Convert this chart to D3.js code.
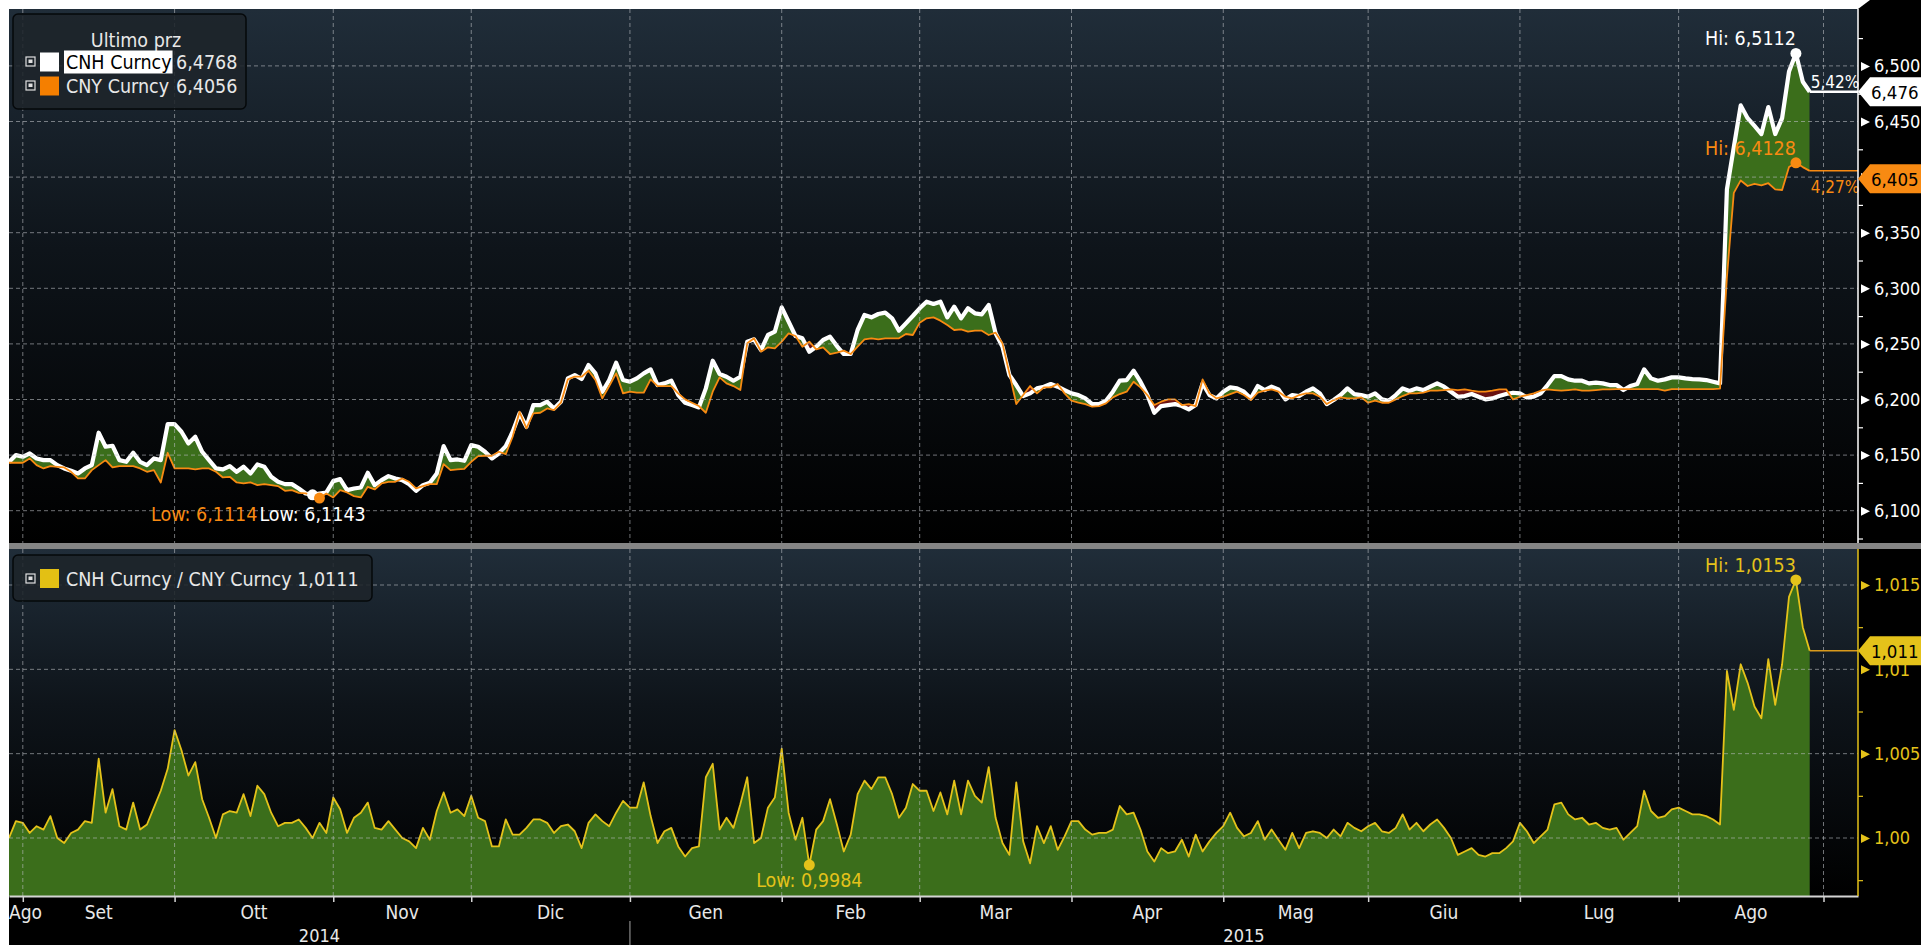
<!DOCTYPE html>
<html><head><meta charset="utf-8">
<script src="https://cdn.jsdelivr.net/npm/d3@7"></script>
<style>
html,body{margin:0;padding:0;background:#fff;overflow:hidden}
svg{display:block}
text{font-family:'DejaVu Sans Condensed','DejaVu Sans',sans-serif;font-stretch:condensed}
</style></head><body><svg id="c" width="1921" height="945"></svg>
<script>
// ---------- DATA ----------
const START_DATE = "2014-08-28";           // first business day shown
const monthNames = ["Gen","Feb","Mar","Apr","Mag","Giu","Lug","Ago","Set","Ott","Nov","Dic"];
const seriesNames = ["CNH Curncy","CNY Curncy"];
const ratioName = "CNH Curncy / CNY Curncy";
const legendTitle = "Ultimo prz";

const cnh = [
6.1438,6.1500,6.1485,6.1515,6.1470,6.1455,6.1455,6.1410,6.1380,6.1359,
6.1335,6.1380,6.1410,6.1701,6.1575,6.1584,6.1455,6.1440,6.1521,6.1440,
6.1410,6.1470,6.1455,6.1779,6.1779,6.1710,6.1605,6.1665,6.1530,6.1455,
6.1380,6.1371,6.1401,6.1350,6.1395,6.1335,6.1416,6.1395,6.1305,6.1260,
6.1239,6.1239,6.1200,6.1155,6.1143,6.1155,6.1164,6.1266,6.1284,6.1185,
6.1200,6.1209,6.1341,6.1230,6.1275,6.1311,6.1290,6.1275,6.1239,6.1179,
6.1230,6.1251,6.1335,6.1581,6.1455,6.1461,6.1449,6.1590,6.1575,6.1530,
6.1470,6.1515,6.1581,6.1710,6.1875,6.1755,6.1950,6.1950,6.1980,6.1920,
6.1980,6.2190,6.2220,6.2184,6.2310,6.2235,6.2070,6.2175,6.2331,6.2175,
6.2160,6.2190,6.2235,6.2271,6.2130,6.2145,6.2169,6.2040,6.1971,6.1950,
6.1929,6.2100,6.2349,6.2229,6.2205,6.2169,6.2205,6.2520,6.2541,6.2445,
6.2580,6.2610,6.2829,6.2700,6.2571,6.2550,6.2430,6.2475,6.2535,6.2565,
6.2481,6.2409,6.2409,6.2625,6.2760,6.2739,6.2769,6.2781,6.2730,6.2619,
6.2685,6.2751,6.2820,6.2880,6.2859,6.2880,6.2739,6.2835,6.2730,6.2820,
6.2775,6.2766,6.2850,6.2595,6.2475,6.2220,6.2130,6.2031,6.2055,6.2100,
6.2115,6.2139,6.2115,6.2085,6.2055,6.2040,6.2010,6.1959,6.1959,6.1989,
6.2070,6.2169,6.2175,6.2259,6.2160,6.2040,6.1881,6.1941,6.1950,6.1959,
6.1941,6.1911,6.1950,6.2145,6.2040,6.2010,6.2070,6.2109,6.2100,6.2070,
6.2010,6.2121,6.2085,6.2115,6.2091,6.2001,6.2040,6.2031,6.2070,6.2100,
6.2055,6.1959,6.1995,6.2040,6.2100,6.2049,6.2040,6.2025,6.2055,6.2001,
6.1989,6.2040,6.2100,6.2076,6.2100,6.2085,6.2115,6.2145,6.2115,6.2070,
6.2025,6.2031,6.2049,6.2025,6.2001,6.2010,6.2031,6.2049,6.2061,6.2055,
6.2019,6.2025,6.2055,6.2130,6.2211,6.2211,6.2181,6.2169,6.2169,6.2145,
6.2151,6.2145,6.2130,6.2130,6.2085,6.2121,6.2139,6.2271,6.2190,6.2169,
6.2181,6.2199,6.2199,6.2190,6.2184,6.2181,6.2175,6.2160,6.2145,6.3890,
6.4270,6.4645,6.4530,6.4460,6.4387,6.4630,6.4387,6.4530,6.4950,6.5112,
6.4857,6.4768];

const cny = [
6.1431,6.1431,6.1431,6.1470,6.1410,6.1380,6.1401,6.1395,6.1389,6.1350,
6.1290,6.1290,6.1365,6.1410,6.1455,6.1389,6.1401,6.1401,6.1401,6.1380,
6.1350,6.1365,6.1254,6.1521,6.1380,6.1380,6.1380,6.1371,6.1380,6.1380,
6.1350,6.1299,6.1305,6.1254,6.1245,6.1254,6.1230,6.1239,6.1230,6.1221,
6.1179,6.1185,6.1161,6.1155,6.1140,6.1114,6.1155,6.1119,6.1185,6.1164,
6.1131,6.1119,6.1215,6.1191,6.1245,6.1260,6.1260,6.1290,6.1260,6.1200,
6.1221,6.1239,6.1239,6.1419,6.1365,6.1371,6.1377,6.1440,6.1491,6.1494,
6.1494,6.1530,6.1509,6.1665,6.1890,6.1740,6.1875,6.1881,6.1920,6.1905,
6.1971,6.2181,6.2205,6.2205,6.2259,6.2175,6.2010,6.2121,6.2235,6.2055,
6.2070,6.2061,6.2061,6.2181,6.2121,6.2121,6.2121,6.2055,6.2001,6.1971,
6.1941,6.1881,6.2070,6.2199,6.2145,6.2121,6.2085,6.2505,6.2550,6.2430,
6.2469,6.2460,6.2520,6.2595,6.2571,6.2475,6.2520,6.2451,6.2469,6.2409,
6.2421,6.2439,6.2409,6.2475,6.2541,6.2550,6.2541,6.2550,6.2550,6.2550,
6.2589,6.2580,6.2691,6.2730,6.2739,6.2709,6.2670,6.2625,6.2631,6.2610,
6.2619,6.2619,6.2580,6.2601,6.2505,6.2235,6.1959,6.2040,6.2121,6.2055,
6.2109,6.2109,6.2139,6.2055,6.1989,6.1971,6.1959,6.1935,6.1941,6.1965,
6.2019,6.2049,6.2070,6.2160,6.2109,6.2040,6.1950,6.1980,6.2001,6.2001,
6.1950,6.1959,6.1941,6.2181,6.2055,6.2010,6.2025,6.2049,6.2070,6.2040,
6.1995,6.2061,6.2079,6.2091,6.2070,6.2025,6.2010,6.2040,6.2055,6.2055,
6.2025,6.1959,6.1995,6.2019,6.2010,6.2010,6.2019,6.1971,6.1989,6.1971,
6.1971,6.2001,6.2031,6.2055,6.2055,6.2061,6.2079,6.2079,6.2085,6.2091,
6.2085,6.2091,6.2079,6.2070,6.2070,6.2079,6.2091,6.2091,6.2001,6.2025,
6.2040,6.2055,6.2079,6.2091,6.2085,6.2079,6.2085,6.2091,6.2079,6.2079,
6.2085,6.2091,6.2091,6.2094,6.2094,6.2094,6.2094,6.2094,6.2094,6.2094,
6.2079,6.2094,6.2094,6.2094,6.2094,6.2094,6.2094,6.2094,6.2097,6.3100,
6.3858,6.3970,6.3920,6.3940,6.3925,6.3945,6.3890,6.3884,6.4090,6.4128,
6.4090,6.4056];

const ratio = [
1.0000,1.0010,1.0009,1.0003,1.0007,1.0005,1.0013,1.0000,0.9997,1.0003,
1.0005,1.0010,1.0009,1.0047,1.0015,1.0029,1.0007,1.0005,1.0021,1.0005,
1.0008,1.0018,1.0028,1.0041,1.0064,1.0052,1.0037,1.0045,1.0023,1.0012,
1.0000,1.0014,1.0016,1.0015,1.0026,1.0013,1.0031,1.0026,1.0015,1.0007,
1.0009,1.0009,1.0011,1.0006,1.0000,1.0009,1.0003,1.0024,1.0017,1.0003,
1.0012,1.0015,1.0021,1.0006,1.0005,1.0010,1.0005,1.0000,0.9998,0.9994,
1.0006,0.9999,1.0016,1.0027,1.0015,1.0017,1.0013,1.0025,1.0012,1.0010,
0.9995,0.9995,1.0011,1.0002,1.0002,1.0006,1.0011,1.0011,1.0009,1.0003,
1.0007,1.0008,1.0004,0.9994,1.0009,1.0014,1.0010,1.0007,1.0015,1.0022,
1.0018,1.0018,1.0033,1.0013,0.9997,1.0004,1.0006,0.9995,0.9989,0.9994,
0.9995,1.0036,1.0044,1.0005,1.0012,1.0006,1.0020,1.0036,0.9997,1.0000,
1.0018,1.0024,1.0053,1.0015,0.9999,1.0012,0.9984,1.0005,1.0010,1.0023,
1.0008,0.9992,1.0002,1.0026,1.0034,1.0029,1.0036,1.0036,1.0026,1.0012,
1.0018,1.0032,1.0028,1.0028,1.0016,1.0027,1.0014,1.0034,1.0014,1.0034,
1.0025,1.0021,1.0042,1.0012,0.9997,0.9990,1.0033,0.9998,0.9985,1.0007,
0.9997,1.0007,0.9993,1.0001,1.0010,1.0010,1.0005,1.0002,1.0003,1.0003,
1.0005,1.0019,1.0014,1.0015,1.0005,0.9992,0.9986,0.9994,0.9991,0.9992,
0.9999,0.9989,1.0002,0.9992,0.9998,1.0003,1.0007,1.0015,1.0006,1.0001,
1.0003,1.0010,0.9999,1.0005,0.9999,0.9993,1.0003,0.9994,1.0003,1.0004,
1.0003,1.0000,1.0005,1.0001,1.0009,1.0006,1.0004,1.0007,1.0009,1.0004,
1.0003,1.0006,1.0014,1.0005,1.0009,1.0004,1.0008,1.0011,1.0006,1.0000,
0.9990,0.9992,0.9994,0.9990,0.9989,0.9991,0.9991,0.9994,0.9998,1.0009,
1.0004,0.9997,1.0001,1.0005,1.0020,1.0021,1.0014,1.0011,1.0012,1.0008,
1.0009,1.0006,1.0005,1.0006,0.9999,1.0003,1.0007,1.0028,1.0016,1.0012,
1.0013,1.0017,1.0018,1.0016,1.0014,1.0014,1.0013,1.0011,1.0008,1.0099,
1.0076,1.0103,1.0092,1.0078,1.0071,1.0106,1.0079,1.0103,1.0143,1.0153,
1.0125,1.0111];

const topTicks  = [6.10,6.15,6.20,6.25,6.30,6.35,6.40,6.45,6.50];
const topMinor  = [6.075,6.125,6.175,6.225,6.275,6.325,6.375,6.425,6.475,6.525];
const botTicks  = [1.000,1.005,1.010,1.015];
const botTickLabels = ["1,00","1,005","1,01","1,015"];
const botMinor  = [0.9975,1.0025,1.0075,1.0125];

// ---------- LAYOUT ----------
const W = 1921, H = 945;
const L = 9, R = 1858, T = 9;
const topB = 543, sepB = 549, botB = 896;
const DOMAIN_MAX = 268;
const FS_LEG = 19.5, FS_ANN = 19.5, FS_MON = 19, FS_AX = 18;

const C = {
  white:"#ffffff", orange:"#f88a12", yellow:"#e4c21a", green:"#3b6e1b", red:"#6a1212",
  grid:"#b9bdc1", axisText:"#e8e8e8"
};

const svg = d3.select("#c");
const defs = svg.append("defs");
const loc = d3.formatLocale({decimal:",", thousands:".", grouping:[3], currency:["","€"]});
const f3 = loc.format(".3f"), f4 = loc.format(".4f"), f2 = loc.format(".2f");
const trunc3 = v => f3(Math.floor(v*1000 + 1e-9)/1000);

// dates: business days
const dates = [];
{ let d = new Date(START_DATE + "T00:00:00Z");
  while (dates.length <= DOMAIN_MAX) { const wd = d.getUTCDay(); if (wd !== 0 && wd !== 6) dates.push(new Date(d)); d.setUTCDate(d.getUTCDate()+1); } }
const N = cnh.length;
const monthStarts = [];
for (let i = 1; i < dates.length; i++) if (dates[i].getUTCMonth() !== dates[i-1].getUTCMonth()) monthStarts.push(i);

// scales
const x = d3.scaleLinear().domain([0, DOMAIN_MAX]).range([L, R]);
const yT = d3.scaleLinear().domain([6.1, 6.5]).range([510.7, 65.9]);
const yB = d3.scaleLinear().domain([1.0, 1.015]).range([838, 585]);

// ---------- BACKGROUND ----------
svg.append("rect").attr("width", W).attr("height", H).attr("fill", "#fff");
svg.append("rect").attr("x", L).attr("y", T).attr("width", W-L).attr("height", H-T).attr("fill", "#000");
svg.append("rect").attr("x", R).attr("y", 0).attr("width", W-R).attr("height", T).attr("fill", "#000");
svg.append("path").attr("d", `M${R},0L${R+12},0L${R},${T}Z`).attr("fill", "#fff");

function grad(id){
  const g = defs.append("linearGradient").attr("id", id).attr("x1",0).attr("y1",0).attr("x2",0).attr("y2",1);
  g.append("stop").attr("offset","0%").attr("stop-color","#202d39");
  g.append("stop").attr("offset","45%").attr("stop-color","#0e141a");
  g.append("stop").attr("offset","100%").attr("stop-color","#000000");
}
grad("gTop"); grad("gBot");
svg.append("rect").attr("x",L).attr("y",T).attr("width",R-L).attr("height",topB-T).attr("fill","url(#gTop)");
svg.append("rect").attr("x",L).attr("y",sepB).attr("width",R-L).attr("height",botB-sepB).attr("fill","url(#gBot)");
svg.append("rect").attr("x",L).attr("y",topB).attr("width",W-L).attr("height",sepB-topB).attr("fill","#858585");

defs.append("clipPath").attr("id","clipTop").append("rect").attr("x",L).attr("y",T).attr("width",R-L).attr("height",topB-T);
defs.append("clipPath").attr("id","clipBot").append("rect").attr("x",L).attr("y",sepB).attr("width",R-L).attr("height",botB-sepB);

const idx = d3.range(N);

// ---------- TOP PANEL FILLS ----------
const gTop = svg.append("g").attr("clip-path","url(#clipTop)");
defs.append("clipPath").attr("id","belowCNH").append("path")
  .attr("d", d3.area().x(i=>x(i)).y0(topB).y1(i=>yT(cnh[i]))(idx));
defs.append("clipPath").attr("id","belowCNY").append("path")
  .attr("d", d3.area().x(i=>x(i)).y0(topB).y1(i=>yT(cny[i]))(idx));
gTop.append("g").attr("clip-path","url(#belowCNH)").append("path")
  .attr("d", d3.area().x(i=>x(i)).y0(T).y1(i=>yT(cny[i]))(idx)).attr("fill", C.green);
gTop.append("g").attr("clip-path","url(#belowCNY)").append("path")
  .attr("d", d3.area().x(i=>x(i)).y0(T).y1(i=>yT(cnh[i]))(idx)).attr("fill", C.red);

// bottom fill
const gBot = svg.append("g").attr("clip-path","url(#clipBot)");
gBot.append("path").attr("d", d3.area().x(i=>x(i)).y0(botB).y1(i=>yB(ratio[i]))(idx)).attr("fill", C.green);

// ---------- GRIDLINES ----------
const grid = svg.append("g").attr("stroke", C.grid).attr("stroke-opacity", 0.6).attr("stroke-width", 1).attr("stroke-dasharray","4,3");
topTicks.forEach(v => grid.append("line").attr("x1",L).attr("x2",R).attr("y1",yT(v)).attr("y2",yT(v)));
botTicks.forEach(v => grid.append("line").attr("x1",L).attr("x2",R).attr("y1",yB(v)).attr("y2",yB(v)));
monthStarts.forEach(i => {
  grid.append("line").attr("x1",x(i)).attr("x2",x(i)).attr("y1",T).attr("y2",topB);
  grid.append("line").attr("x1",x(i)).attr("x2",x(i)).attr("y1",sepB).attr("y2",botB);
});

// ---------- LINES ----------
gTop.append("path").attr("d", d3.line().x(i=>x(i)).y(i=>yT(cnh[i]))(idx))
  .attr("fill","none").attr("stroke",C.white).attr("stroke-width",4.2).attr("stroke-linejoin","round");
gTop.append("path").attr("d", d3.line().x(i=>x(i)).y(i=>yT(cny[i]))(idx))
  .attr("fill","none").attr("stroke",C.orange).attr("stroke-width",1.8).attr("stroke-linejoin","round");
gBot.append("path").attr("d", d3.line().x(i=>x(i)).y(i=>yB(ratio[i]))(idx))
  .attr("fill","none").attr("stroke",C.yellow).attr("stroke-width",1.8).attr("stroke-linejoin","round");

// last-value extension lines
const last = N-1;
svg.append("line").attr("x1",x(last)).attr("x2",R).attr("y1",yT(cnh[last])).attr("y2",yT(cnh[last])).attr("stroke",C.white).attr("stroke-width",2.5);
svg.append("line").attr("x1",x(last)).attr("x2",R).attr("y1",yT(cny[last])).attr("y2",yT(cny[last])).attr("stroke",C.orange).attr("stroke-width",1.5);
svg.append("line").attr("x1",x(last)).attr("x2",R).attr("y1",yB(ratio[last])).attr("y2",yB(ratio[last])).attr("stroke","#d99a1c").attr("stroke-width",1.5);

// ---------- HI / LOW MARKERS ----------
function ext(arr){ return {hi: d3.maxIndex(arr), lo: d3.minIndex(arr)}; }
const eH = ext(cnh), eY = ext(cny), eR = ext(ratio);
const ann = svg.append("g").attr("font-size", FS_ANN);

function dot(cx, cy, col){ ann.append("circle").attr("cx",cx).attr("cy",cy).attr("r",5.5).attr("fill",col); }
function hiLabel(i, v, ys, col){
  dot(x(i), ys(v), col);
  ann.append("text").attr("x", x(i)).attr("y", ys(v)-8).attr("text-anchor","end").attr("fill",col).text("Hi:  " + f4(v));
}
hiLabel(eH.hi, cnh[eH.hi], yT, C.white);
hiLabel(eY.hi, cny[eY.hi], yT, C.orange);
hiLabel(eR.hi, ratio[eR.hi], yB, C.yellow);

dot(x(eH.lo), yT(cnh[eH.lo]), C.white);
dot(x(eY.lo), yT(cny[eY.lo]), C.orange);
const lowW = ann.append("text").attr("x", x(eH.lo)).attr("y", yT(cnh[eH.lo]) + 26).attr("text-anchor","middle")
  .attr("fill", C.white).text("Low:  " + f4(cnh[eH.lo]));
const lwBox = lowW.node().getBBox();
ann.append("text").attr("x", lwBox.x - 2).attr("y", yT(cnh[eH.lo]) + 26).attr("text-anchor","end")
  .attr("fill", C.orange).text("Low:  " + f4(cny[eY.lo]));
dot(x(eR.lo), yB(ratio[eR.lo]), C.yellow);
ann.append("text").attr("x", x(eR.lo)).attr("y", yB(ratio[eR.lo]) + 22).attr("text-anchor","middle")
  .attr("fill", C.yellow).text("Low:  " + f4(ratio[eR.lo]));

// percent change labels
const pct = a => f2((a[last]/a[0]-1)*100) + "%";
ann.append("text").attr("x", x(last)+1).attr("y", yT(cnh[last])-4).attr("fill",C.white).attr("font-size",17).text(pct(cnh));
ann.append("text").attr("x", x(last)+1).attr("y", yT(cny[last])+22).attr("fill",C.orange).attr("font-size",17).text(pct(cny));

// ---------- X AXIS ----------
const xAxis = d3.axisBottom(x).tickValues(monthStarts).tickSize(6).tickSizeOuter(0).tickFormat("");
const gx = svg.append("g").attr("transform",`translate(0,${botB})`).call(xAxis);
gx.select(".domain").attr("stroke","#d4d4d4").attr("stroke-width",2);
gx.selectAll(".tick line").attr("stroke","#d4d4d4").attr("stroke-width",1.5);

const lab = svg.append("g").attr("font-size", FS_MON).attr("fill", C.axisText);
const bounds = [0, ...monthStarts];
for (let k = 0; k < bounds.length - 1; k++) {
  const s = bounds[k], e = bounds[k+1];
  if (s > last) continue;
  const name = monthNames[dates[s].getUTCMonth()];
  const cx = (x(s) + x(e)) / 2;
  const t = lab.append("text").attr("y", 919).text(name);
  const w = t.node().getComputedTextLength();
  if (cx - w/2 < L) t.attr("x", L).attr("text-anchor","start");
  else t.attr("x", cx).attr("text-anchor","middle");
}
const yearBreaks = monthStarts.filter(i => dates[i].getUTCMonth() === 0);
const yb = [0, ...yearBreaks, DOMAIN_MAX];
for (let k = 0; k < yb.length-1; k++) {
  lab.append("text").attr("x",(x(yb[k])+x(yb[k+1]))/2).attr("y",942).attr("text-anchor","middle").attr("font-size",FS_AX)
    .text(dates[yb[k]].getUTCFullYear());
}
yearBreaks.forEach(i => svg.append("line").attr("x1",x(i)).attr("x2",x(i)).attr("y1",921).attr("y2",H).attr("stroke","#8a8a8a").attr("stroke-width",1.2));

// ---------- RIGHT AXES ----------
function rightAxis(scale, ticks, minor, labels, col, y0, y1){
  const g = svg.append("g").attr("transform",`translate(${R},0)`);
  const ax = d3.axisRight(scale).tickValues(ticks).tickSize(0).tickPadding(16)
    .tickFormat((d,i) => labels ? labels[i] : f3(d));
  g.call(ax);
  g.select(".domain").remove();
  g.selectAll(".tick text").attr("fill", col).attr("font-size", FS_AX)
    .attr("font-family","'DejaVu Sans Condensed','DejaVu Sans',sans-serif").attr("font-stretch","condensed");
  g.selectAll(".tick").append("path").attr("d","M3,-4.5L12,0L3,4.5Z").attr("fill", col);
  const gm = svg.append("g").attr("transform",`translate(${R},0)`)
    .call(d3.axisRight(scale).tickValues(minor).tickSize(5).tickFormat(""));
  gm.select(".domain").remove();
  gm.selectAll(".tick line").attr("stroke", col).attr("stroke-width",1.2);
  svg.append("line").attr("x1",R).attr("x2",R).attr("y1",y0).attr("y2",y1).attr("stroke",col).attr("stroke-width",1.5);
}
rightAxis(yT, topTicks, topMinor, null, C.white, T, topB);
rightAxis(yB, botTicks, botMinor, botTickLabels, C.yellow, sepB, botB);

// value tags
function tag(cy, col, txt){
  const h = 29;
  svg.append("path").attr("d",`M${R},${cy}L${R+12},${cy-h/2}L${W},${cy-h/2}L${W},${cy+h/2}L${R+12},${cy+h/2}Z`).attr("fill",col);
  svg.append("text").attr("x",R+13).attr("y",cy+7).attr("font-size",18.5).attr("fill","#000").text(txt);
}
tag(yT(cnh[last]), C.white, trunc3(cnh[last]));
tag(yT(cny[last]) + 8, C.orange, trunc3(cny[last]));
tag(yB(ratio[last]), C.yellow, trunc3(ratio[last]));

// ---------- LEGENDS ----------
function checkbox(g, cx, cy){
  g.append("rect").attr("x",cx).attr("y",cy).attr("width",9).attr("height",9).attr("fill","none").attr("stroke","#e0e0e0").attr("stroke-width",1.2);
  g.append("rect").attr("x",cx+2.5).attr("y",cy+2.5).attr("width",4).attr("height",3.5).attr("fill","#e0e0e0");
}
const lg = svg.append("g").attr("font-size", FS_LEG);
lg.append("rect").attr("x",13).attr("y",14).attr("width",233).attr("height",95).attr("rx",5)
  .attr("fill","rgba(30,36,42,0.88)").attr("stroke","#05080a").attr("stroke-width",1.5);
lg.append("text").attr("x",136).attr("y",47).attr("text-anchor","middle").attr("fill","#e8e8e8").text(legendTitle);
const legRows = [
  {name: seriesNames[0], col: C.white, v: cnh[last], hl: true, y: 62},
  {name: seriesNames[1], col: "#f57f00", v: cny[last], hl: false, y: 86}
];
legRows.forEach(r => {
  checkbox(lg, 26, r.y - 5);
  lg.append("rect").attr("x",40).attr("y",r.y-9.5).attr("width",19).attr("height",19).attr("fill",r.col);
  const t = lg.append("text").attr("x",66).attr("y",r.y+7).attr("fill", r.hl ? "#000" : "#e8e8e8").text(r.name);
  if (r.hl) {
    const b = t.node().getBBox();
    lg.insert("rect", () => t.node()).attr("x",64).attr("y",r.y-11.5).attr("width",b.width+3).attr("height",23).attr("fill","#fff");
  }
  lg.append("text").attr("x",176).attr("y",r.y+7).attr("fill","#e8e8e8").text(f4(r.v));
});

const lg2 = svg.append("g").attr("font-size", FS_LEG);
lg2.append("rect").attr("x",13).attr("y",555).attr("width",359).attr("height",46).attr("rx",5)
  .attr("fill","rgba(30,36,42,0.88)").attr("stroke","#05080a").attr("stroke-width",1.5);
checkbox(lg2, 26, 574);
lg2.append("rect").attr("x",40).attr("y",569).attr("width",19).attr("height",19).attr("fill","#e3c014");
lg2.append("text").attr("x",66).attr("y",586).attr("fill","#e8e8e8").text(ratioName + " " + f4(ratio[last]));
</script></body></html>
